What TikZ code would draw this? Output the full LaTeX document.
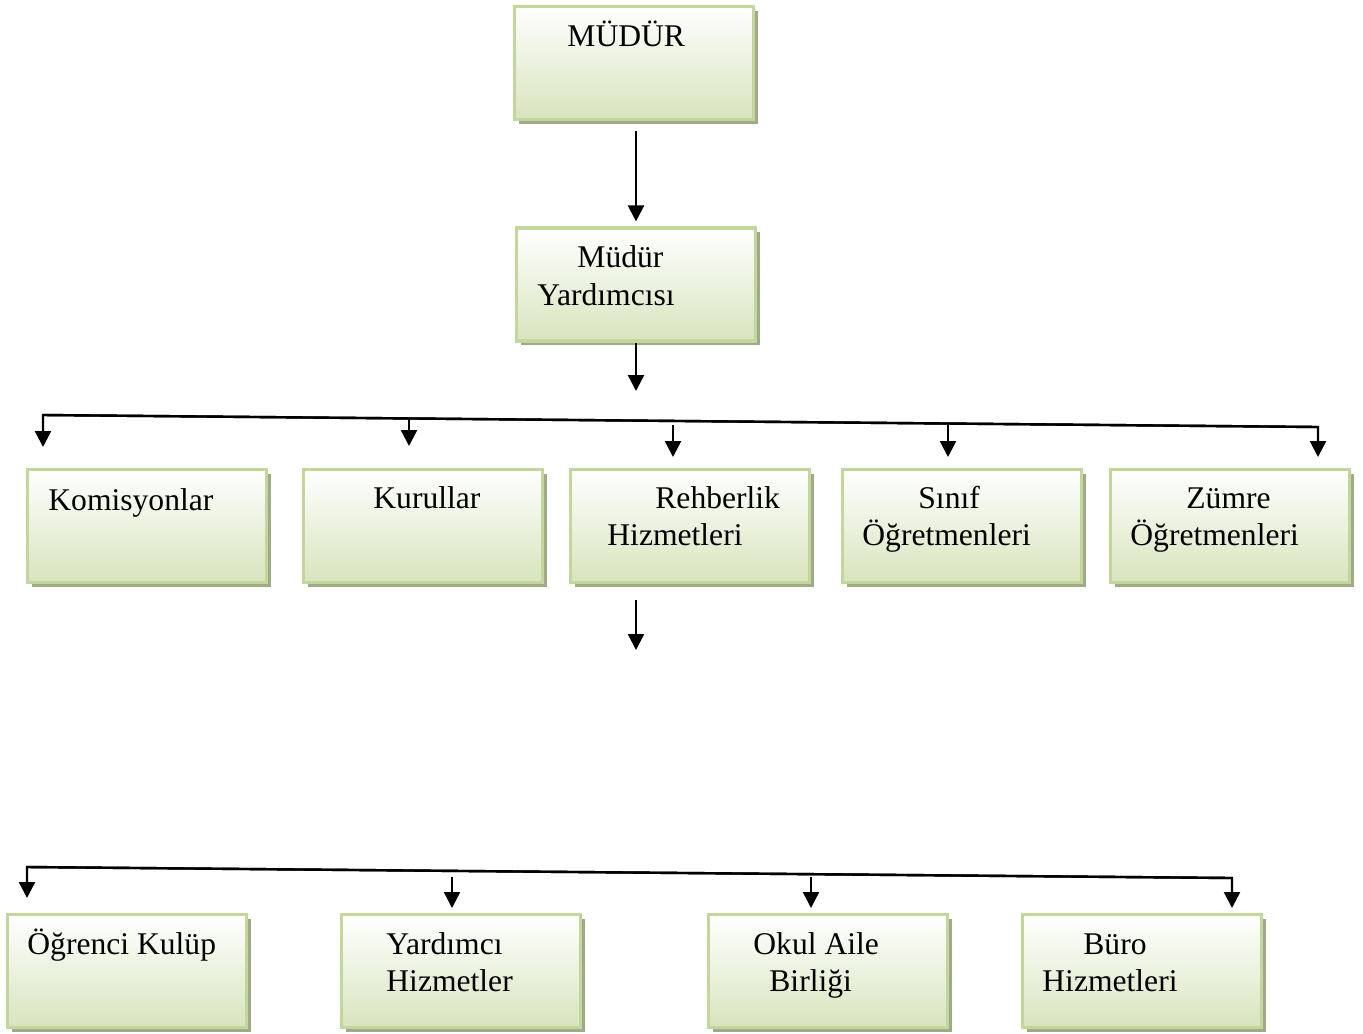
\documentclass[tikz,border=0pt]{standalone}
\usepackage{fontspec}
\setmainfont{Liberation Serif}
\usetikzlibrary{arrows.meta,shadows}

\definecolor{boxline}{HTML}{C3D69B}
\definecolor{boxfill}{HTML}{D7E4BD}
\definecolor{boxshade}{HTML}{9EAA88}

\begin{document}
\begin{tikzpicture}[x=0.5pt,y=-0.5pt,
    unit/.style={draw=boxline, line width=1.6pt, top color=white, bottom color=boxfill,
        minimum width=119.5pt, minimum height=56.5pt, inner sep=0pt,
        drop shadow={shadow xshift=2.2pt, shadow yshift=-2.2pt, fill=boxshade, opacity=1}},
    lbl/.style={anchor=base west, inner sep=0pt, font=\fontsize{15.8}{19}\selectfont},
    arr/.style={line width=1.2pt, -{Triangle[width=8pt,length=8pt]}}]
    \useasboundingbox (0,0) rectangle (1363,1033);

    % boxes
    \node[unit] (mudur) at (634,63) {};
    \node[unit] (yrd) at (636,284.5) {};
    \node[unit] (kom) at (147,526) {};
    \node[unit] (kur) at (423,526) {};
    \node[unit] (reh) at (690,526) {};
    \node[unit] (sin) at (962,526) {};
    \node[unit] (zum) at (1230,526) {};
    \node[unit] (ogr) at (127,971) {};
    \node[unit] (yar) at (461,971) {};
    \node[unit] (oka) at (828,971) {};
    \node[unit] (bur) at (1142,971) {};

    % texts
    \node[lbl] (mudurA) at (567,46) {MÜDÜR};
    \node[lbl] (yrdA) at (577,267) {Müdür};
    \node[lbl] (yrdB) at (537,305) {Yardımcısı};
    \node[lbl] (komA) at (48,510) {Komisyonlar};
    \node[lbl] (kurA) at (373,508) {Kurullar};
    \node[lbl] (rehA) at (655,508) {Rehberlik};
    \node[lbl] (rehB) at (607,545) {Hizmetleri};
    \node[lbl] (sinA) at (918,508) {Sınıf};
    \node[lbl] (sinB) at (862,545) {Öğretmenleri};
    \node[lbl] (zumA) at (1186,508) {Zümre};
    \node[lbl] (zumB) at (1130,545) {Öğretmenleri};
    \node[lbl] (ogrA) at (27,954) {Öğrenci Kulüp};
    \node[lbl] (yarA) at (386,954) {Yardımcı};
    \node[lbl] (yarB) at (386,991) {Hizmetler};
    \node[lbl] (okaA) at (753,954) {Okul Aile};
    \node[lbl] (okaB) at (769,991) {Birliği};
    \node[lbl] (burA) at (1083,954) {Büro};
    \node[lbl] (burB) at (1042,991) {Hizmetleri};

    % free ends of the connectors
    \coordinate (yrdOut) at (636,391);
    \coordinate (busL) at (43,415);
    \coordinate (busR) at (1318,427);
    \coordinate (komIn) at (43,447);
    \coordinate (zumIn) at (1318,457);
    \coordinate (kurTop) at (409,418);
    \coordinate (kurIn) at (409,446);
    \coordinate (rehTop) at (673,425);
    \coordinate (rehIn) at (673,457);
    \coordinate (sinTop) at (948,425);
    \coordinate (sinIn) at (948,457);
    \coordinate (rehOutA) at (636,600);
    \coordinate (rehOutB) at (636,650);
    \coordinate (bustL) at (27,867);
    \coordinate (bustR) at (1232,878);
    \coordinate (ogrIn) at (27,898);
    \coordinate (burIn) at (1232,908);
    \coordinate (yarTop) at (452,877);
    \coordinate (yarIn) at (452,908);
    \coordinate (okaTop) at (811,877);
    \coordinate (okaIn) at (811,908);

    % connectors
    \draw[arr, shorten <=5pt, shorten >=2.5pt] (mudur.south -| yrd.north) -- (yrd.north);
    \draw[arr] (yrd.south) -- (yrdOut);
    \draw[arr] (busR) -- (busL) -- (komIn);
    \draw[arr] (busL) -- (busR) -- (zumIn);
    \draw[arr] (kurTop) -- (kurIn);
    \draw[arr] (rehTop) -- (rehIn);
    \draw[arr] (sinTop) -- (sinIn);
    \draw[arr] (rehOutA) -- (rehOutB);
    \draw[arr] (bustR) -- (bustL) -- (ogrIn);
    \draw[arr] (bustL) -- (bustR) -- (burIn);
    \draw[arr] (yarTop) -- (yarIn);
    \draw[arr] (okaTop) -- (okaIn);
\end{tikzpicture}
\end{document}
